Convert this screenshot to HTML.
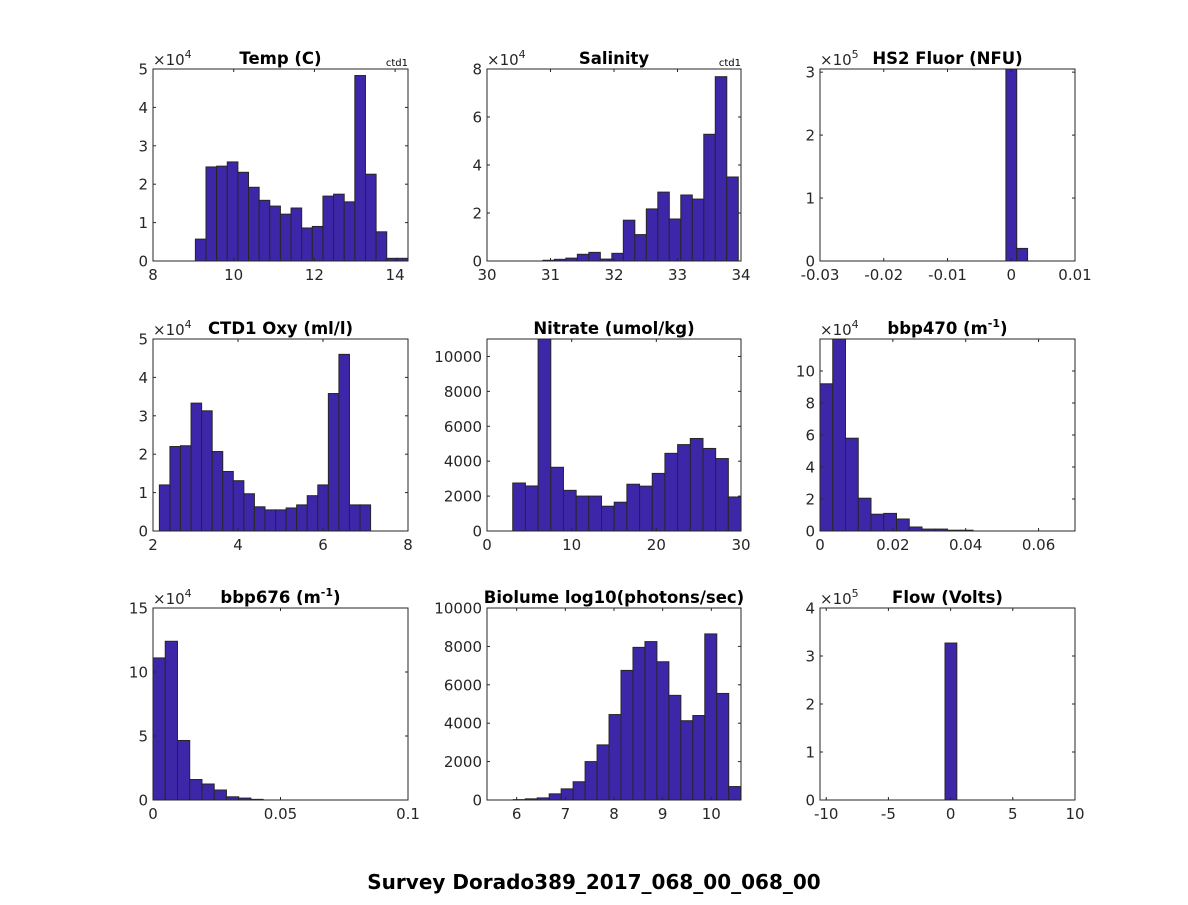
<!DOCTYPE html>
<html><head><meta charset="utf-8"><style>
body{margin:0;background:#fff;}
svg text{font-family:"DejaVu Sans","Liberation Sans",sans-serif;}
</style></head><body>
<svg id="fig" width="1188" height="900" xmlns="http://www.w3.org/2000/svg">
<rect width="1188" height="900" fill="#fff"/>
<text x="594" y="889" text-anchor="middle" font-size="20" font-weight="bold">Survey Dorado389_2017_068_00_068_00</text>
</svg>
<script>
// Data arrays (counts in scaled units shown on axis)
const tempCounts=[0.57,2.45,2.47,2.58,2.31,1.92,1.58,1.43,1.22,1.38,0.86,0.90,1.69,1.74,1.54,4.83,2.26,0.76,0.07,0.07];
const salCounts=[0.03,0.07,0.12,0.28,0.36,0.08,0.32,1.7,1.1,2.17,2.87,1.75,2.75,2.58,5.28,7.68,3.5];
const fluorCounts=[3.1,0.2];
const oxyCounts=[1.2,2.2,2.22,3.33,3.13,2.07,1.55,1.31,0.97,0.63,0.55,0.55,0.6,0.68,0.92,1.2,3.58,4.6,0.68,0.68];
const nitrateCounts=[2750,2580,11000,3650,2330,2000,2000,1420,1650,2680,2570,3300,4450,4950,5300,4730,4150,1950];
const bbp470Counts=[9.2,12,5.8,2.05,1.05,1.1,0.75,0.25,0.12,0.12,0.05,0.05];
const bbp676Counts=[11.1,12.4,4.65,1.6,1.25,0.78,0.25,0.15,0.05];
const biolumeCounts=[20,60,110,320,580,950,2000,2870,4450,6750,7950,8250,7200,5450,4130,4400,8650,5550,700];
const flowCounts=[3.27];
const tempTicksX=[8,10,12,14], salTicksX=[30,31,32,33,34], fluorTicksX=[-0.03,-0.02,-0.01,0,0.01];
const oxyTicksX=[2,4,6,8], nitrateTicksX=[0,10,20,30], bbp470TicksX=[0,0.02,0.04,0.06];
const bbp676TicksX=[0,0.05,0.1], biolumeTicksX=[6,7,8,9,10], flowTicksX=[-10,-5,0,5,10];
const tempTicksY=[0,1,2,3,4,5], salTicksY=[0,2,4,6,8], fluorTicksY=[0,1,2,3];
const oxyTicksY=[0,1,2,3,4,5], nitrateTicksY=[0,2000,4000,6000,8000,10000], bbp470TicksY=[0,2,4,6,8,10];
const bbp676TicksY=[0,5,10,15], biolumeTicksY=[0,2000,4000,6000,8000,10000], flowTicksY=[0,1,2,3,4];

const plots=[
 {name:'temp',title:'Temp (C)',exp:'4',ctd:true,col:0,row:0,xmin:8,xmax:14.32,ymax:5,start:9.05,w:0.2635,c:tempCounts,tx:tempTicksX,ty:tempTicksY},
 {name:'salinity',title:'Salinity',exp:'4',ctd:true,col:1,row:0,xmin:30,xmax:34,ymax:8,start:30.88,w:0.181,c:salCounts,tx:salTicksX,ty:salTicksY},
 {name:'hs2-fluor',title:'HS2 Fluor (NFU)',exp:'5',col:2,row:0,xmin:-0.03,xmax:0.01,ymax:3.05,start:-0.00084,w:0.0017,c:fluorCounts,tx:fluorTicksX,ty:fluorTicksY},
 {name:'oxygen',title:'CTD1 Oxy (ml/l)',exp:'4',col:0,row:1,xmin:2,xmax:8,ymax:5,start:2.15,w:0.2485,c:oxyCounts,tx:oxyTicksX,ty:oxyTicksY},
 {name:'nitrate',title:'Nitrate (umol/kg)',col:1,row:1,xmin:0,xmax:30,ymax:11000,start:3.04,w:1.498,c:nitrateCounts,tx:nitrateTicksX,ty:nitrateTicksY},
 {name:'bbp470',title:'bbp470 (m',sup:true,exp:'4',col:2,row:1,xmin:0,xmax:0.07,ymax:12,start:0,w:0.0035,c:bbp470Counts,tx:bbp470TicksX,ty:bbp470TicksY},
 {name:'bbp676',title:'bbp676 (m',sup:true,exp:'4',col:0,row:2,xmin:0,xmax:0.1,ymax:15,start:0,w:0.0048,c:bbp676Counts,tx:bbp676TicksX,ty:bbp676TicksY},
 {name:'biolume',title:'Biolume log10(photons/sec)',col:1,row:2,xmin:5.39,xmax:10.61,ymax:10000,start:5.93,w:0.246,c:biolumeCounts,tx:biolumeTicksX,ty:biolumeTicksY},
 {name:'flow',title:'Flow (Volts)',exp:'5',col:2,row:2,xmin:-10.5,xmax:10,ymax:4,start:-0.45,w:0.95,c:flowCounts,tx:flowTicksX,ty:flowTicksY}
];
const colsX=[[153,408],[487,741],[820,1075]];
const rowsY=[[69,261],[339,531],[608,800]];
const NS='http://www.w3.org/2000/svg';
const fig=document.getElementById('fig');
function mk(tag,attrs,parent,text){const e=document.createElementNS(NS,tag);for(const k in attrs)e.setAttribute(k,attrs[k]);if(text!==undefined)e.textContent=text;parent.appendChild(e);return e;}
function fmt(v){return String(v);}
plots.forEach(p=>{
 const [x0,x1]=colsX[p.col],[y0,y1]=rowsY[p.row];
 const g=mk('g',{},fig);
 
 
 const sx=v=>x0+(v-p.xmin)/(p.xmax-p.xmin)*(x1-x0);
 const sy=v=>y1-Math.min(v,p.ymax)/p.ymax*(y1-y0);
 p.c.forEach((v,i)=>{
  const a=sx(p.start+i*p.w), b=sx(p.start+(i+1)*p.w);
  const r=mk('rect',{x:a,y:sy(v),width:b-a,height:y1-sy(v),fill:'#3e26a8',stroke:'#262626','stroke-width':1},g);
  
  
 });
 const box=mk('rect',{x:x0,y:y0,width:x1-x0,height:y1-y0,fill:'none',stroke:'#262626','stroke-width':1},g);
 
 
 p.tx.forEach(t=>{const x=sx(t);
  mk('line',{x1:x,x2:x,y1:y1,y2:y1-3,stroke:'#262626'},g);mk('line',{x1:x,x2:x,y1:y0,y2:y0+3,stroke:'#262626'},g);
  const tl=mk('text',{x:x,y:y1+19,'text-anchor':'middle','font-size':15,fill:'#262626'},g,fmt(t));
  
  
 });
 p.ty.forEach(t=>{const y=sy(t);
  mk('line',{x1:x0,x2:x0+3,y1:y,y2:y,stroke:'#262626'},g);mk('line',{x1:x1,x2:x1-3,y1:y,y2:y,stroke:'#262626'},g);
  const tl=mk('text',{x:x0-5,y:y+5.5,'text-anchor':'end','font-size':15,fill:'#262626'},g,fmt(t));
  
  
 });
 const tt=mk('text',{x:(x0+x1)/2,y:y0-5,'text-anchor':'middle','font-size':16.5,'font-weight':'bold'},g,p.title);
 
 
 if(p.sup){mk('tspan',{dy:-7,'font-size':11},tt,'-1');mk('tspan',{dy:7},tt,')');}
 if(p.exp){const e=mk('text',{x:x0,y:y0-4,'font-size':15,fill:'#262626'},g,'\u00d710');
  
  
  mk('tspan',{dy:-7,'font-size':11},e,p.exp);}
 if(p.ctd){const c=mk('text',{x:x1,y:y0-3,'text-anchor':'end','font-size':10},g,'ctd1');
  
  }
});
</script>
</body></html>
